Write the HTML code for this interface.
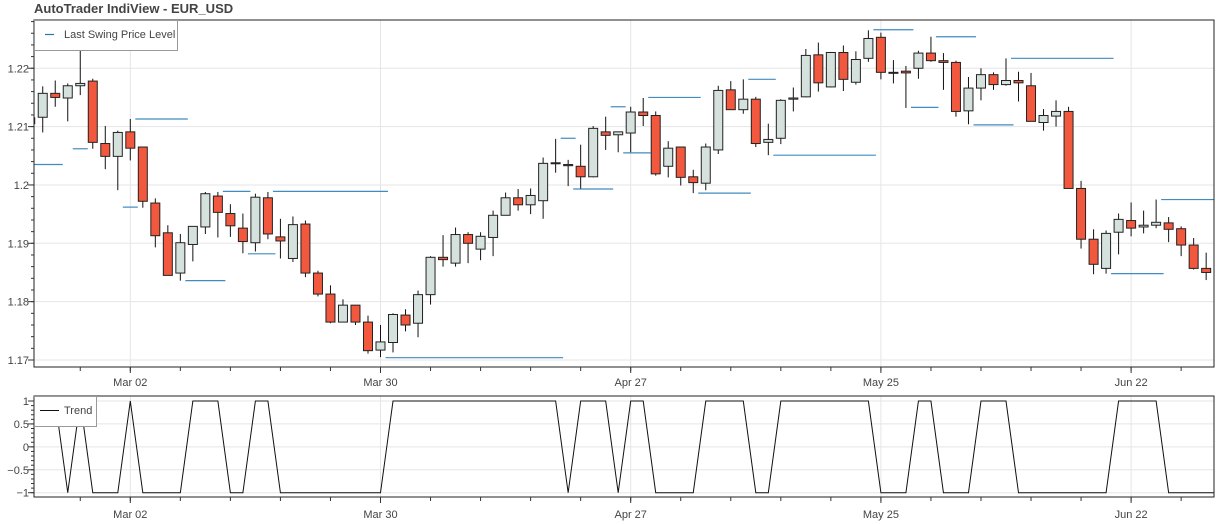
<!DOCTYPE html>
<html><head><meta charset="utf-8"><style>
html,body{margin:0;padding:0;background:#fff;}
svg{display:block;font-family:"Liberation Sans",Arial,sans-serif;}
</style></head><body>
<svg id="chart" width="1216" height="524" viewBox="0 0 1216 524">
<text x="34" y="13" font-size="13" font-weight="bold" fill="#444">AutoTrader IndiView - EUR_USD</text>
<g id="main"></g>
<g id="sub"></g>
</svg>
<script>
const idx = [];
for (let k = -1; k <= 93; k++) idx.push(k);
const opens  = [1.2105,1.2116,1.2157,1.2149,1.2170,1.2178,1.2071,1.2049,1.2091,1.2065,1.1969,1.1918,1.1849,1.1898,1.1928,1.1981,1.1951,1.1926,1.1901,1.1978,1.1911,1.1874,1.1933,1.1849,1.1813,1.1765,1.1794,1.1765,1.1717,1.1730,1.1777,1.1763,1.1812,1.1876,1.1866,1.1915,1.1890,1.1910,1.1948,1.1978,1.1966,1.1973,1.2037,1.2035,1.2032,1.2014,1.2091,1.2086,1.2089,1.2125,1.2119,1.2032,1.2065,1.2014,1.2003,1.2060,1.2163,1.2129,1.2147,1.2073,1.2080,1.2147,1.2151,1.2223,1.2168,1.2227,1.2176,1.2217,1.2253,1.2193,1.2195,1.2200,1.2226,1.2213,1.2210,1.2127,1.2166,1.2189,1.2172,1.2179,1.2170,1.2107,1.2118,1.2126,1.1994,1.1907,1.1857,1.1919,1.1939,1.1928,1.1931,1.1935,1.1925,1.1897,1.1857];
const highs  = [1.2125,1.2169,1.2179,1.2174,1.2245,1.2182,1.2101,1.2093,1.2113,1.2065,1.1977,1.1931,1.1916,1.1929,1.1988,1.1988,1.1967,1.1951,1.1985,1.1988,1.1942,1.1946,1.1939,1.1853,1.1828,1.1804,1.1794,1.1776,1.1760,1.1780,1.1787,1.1819,1.1878,1.1914,1.1927,1.1919,1.1919,1.1956,1.1987,1.1993,1.1994,1.2047,1.2079,1.2043,1.2069,1.2101,1.2117,1.2091,1.2134,1.2149,1.2126,1.2075,1.2065,1.2026,1.2071,1.2170,1.2178,1.2181,1.2151,1.2105,1.2147,1.2167,1.2233,1.2244,1.2228,1.2239,1.2229,1.2265,1.2261,1.2214,1.2204,1.2230,1.2254,1.2226,1.2213,1.2185,1.2200,1.2193,1.2217,1.2194,1.2192,1.2130,1.2145,1.2134,1.2007,1.1924,1.1922,1.1951,1.1970,1.1956,1.1975,1.1945,1.1929,1.1909,1.1884];
const lows   = [1.2090,1.2090,1.2134,1.2109,1.2154,1.2062,1.2027,1.1991,1.2042,1.1961,1.1893,1.1845,1.1836,1.1869,1.1916,1.1910,1.1911,1.1883,1.1886,1.1907,1.1874,1.1868,1.1842,1.1809,1.1763,1.1765,1.1760,1.1711,1.1705,1.1713,1.1749,1.1739,1.1795,1.1860,1.1860,1.1866,1.1871,1.1878,1.1948,1.1956,1.1950,1.1942,1.2021,1.1998,1.1993,1.2013,1.2060,1.2056,1.2056,1.2101,1.2016,1.2013,1.1999,1.1986,1.1991,1.2053,1.2129,1.2122,1.2065,1.2051,1.2070,1.2126,1.2150,1.2160,1.2167,1.2161,1.2172,1.2211,1.2181,1.2174,1.2132,1.2182,1.2211,1.2163,1.2117,1.2104,1.2145,1.2163,1.2170,1.2143,1.2109,1.2093,1.2100,1.1994,1.1891,1.1847,1.1848,1.1881,1.1912,1.1917,1.1926,1.1902,1.1878,1.1855,1.1837];
const closes = [1.2115,1.2157,1.2150,1.2170,1.2174,1.2073,1.2049,1.2090,1.2063,1.1972,1.1913,1.1845,1.1901,1.1929,1.1985,1.1953,1.1930,1.1903,1.1979,1.1916,1.1904,1.1932,1.1849,1.1813,1.1765,1.1794,1.1765,1.1716,1.1731,1.1778,1.1760,1.1812,1.1876,1.1872,1.1915,1.1900,1.1912,1.1948,1.1978,1.1966,1.1982,1.2037,1.2038,1.2033,1.2014,1.2097,1.2085,1.2091,1.2125,1.2119,1.2019,1.2063,1.2013,1.2004,1.2065,1.2162,1.2129,1.2147,1.2071,1.2078,1.2145,1.2149,1.2222,1.2175,1.2227,1.2181,1.2215,1.2251,1.2193,1.2192,1.2192,1.2226,1.2213,1.2210,1.2126,1.2166,1.2189,1.2172,1.2179,1.2175,1.2109,1.2119,1.2126,1.1994,1.1907,1.1864,1.1917,1.1941,1.1926,1.1931,1.1936,1.1924,1.1897,1.1857,1.1850];
const swingStart = [-1,3,8,7,15,19,17,12,28,42,46,43,47,49,53,57,59,67,70,72,75,78,86,90];
const swingEnd   = [1,3,11,7,16,27,18,14,41,42,46,45,48,52,56,58,66,69,71,74,77,85,89,93];
const swingLevel = [1.2035,1.2062,1.2113,1.1962,1.1989,1.1989,1.1882,1.1836,1.1704,1.2080,1.2134,1.1993,1.2055,1.2150,1.1986,1.2181,1.2051,1.2266,1.2133,1.2254,1.2103,1.2217,1.1848,1.1975];
const trend = [1,1,1,-1,1,-1,-1,-1,1,-1,-1,-1,-1,1,1,1,-1,-1,1,1,-1,-1,-1,-1,-1,-1,-1,-1,-1,1,1,1,1,1,1,1,1,1,1,1,1,1,1,-1,1,1,1,-1,1,1,-1,-1,-1,-1,1,1,1,1,-1,-1,1,1,1,1,1,1,1,1,-1,-1,-1,1,1,-1,-1,-1,1,1,1,-1,-1,-1,-1,-1,-1,-1,-1,1,1,1,1,-1,-1,-1,-1];
const yTicks = [1.17,1.18,1.19,1.2,1.21,1.22];
const yTickLabels = ["1.17","1.18","1.19","1.2","1.21","1.22"];
const tTicks = [-1,-0.5,0,0.5,1];
const tTickLabels = ["−1","−0.5","0","0.5","1"];
const xLabelIdx = [7,27,47,67,87];
const xLabels = ["Mar 02","Mar 30","Apr 27","May 25","Jun 22"];

const NS = "http://www.w3.org/2000/svg";
const L = 34, R = 1214, T1 = 20, B1 = 367, T2 = 396, B2 = 497;
const xs = i => 130.3 + 12.51 * (i - 7);
const ys = v => 360 - (v - 1.17) * 5835;
const yt = v => 446.85 - v * 45.85;
function el(tag, attrs, parent) {
  const e = document.createElementNS(NS, tag);
  for (const k in attrs) e.setAttribute(k, attrs[k]);
  parent.appendChild(e);
  return e;
}
const svg = document.getElementById('chart');
const defs = el('defs', {}, svg);
const c1 = el('clipPath', {id: 'c1'}, defs); el('rect', {x: L, y: T1, width: R - L, height: B1 - T1}, c1);
const c2 = el('clipPath', {id: 'c2'}, defs); el('rect', {x: L, y: T2, width: R - L, height: B2 - T2}, c2);
const main = document.getElementById('main');
const sub = document.getElementById('sub');





// grids
const g1 = el('g', {}, main);


yTicks.forEach(v => el('line', {x1: L, x2: R, y1: ys(v), y2: ys(v), stroke: '#e5e5e5', 'stroke-width': 1}, g1));
xLabelIdx.forEach(i => { el('line', {x1: xs(i), x2: xs(i), y1: T1, y2: B1, stroke: '#e5e5e5'}, g1); el('line', {x1: xs(i), x2: xs(i), y1: T2, y2: B2, stroke: '#e5e5e5'}, g1); });
tTicks.forEach(v => el('line', {x1: L, x2: R, y1: yt(v), y2: yt(v), stroke: '#e5e5e5'}, g1));

// candles
const cg = el('g', {'clip-path': 'url(#c1)'}, main);


idx.forEach((i, k) => {
  const x = xs(i), up = closes[k] >= opens[k];
  const w = el('line', {x1: x, x2: x, y1: ys(highs[k]), y2: ys(lows[k]), stroke: '#111', 'stroke-width': 1}, cg);
  
  
  const top = ys(Math.max(opens[k], closes[k])), bot = ys(Math.min(opens[k], closes[k]));
  const b = el('rect', {x: x - 4.5, y: top, width: 9, height: Math.max(1, bot - top), fill: up ? '#d5e1dd' : '#f2583e', stroke: '#222', 'stroke-width': 1}, cg);
  
  
});
// swing lines
swingLevel.forEach((v, k) => {
  const s = el('line', {x1: xs(swingStart[k]) - 7.5, x2: xs(swingEnd[k]) + 7.5, y1: ys(v), y2: ys(v), stroke: '#1f77b4', 'stroke-width': 1.2, opacity: 0.85, 'clip-path': 'url(#c1)'}, main);
  
  
});
// trend line
let pts = idx.map((i, k) => xs(i) + ',' + yt(trend[k])).join(' ');
pts += ' ' + R + ',' + yt(trend[trend.length - 1]);
const tl = el('polyline', {points: pts, fill: 'none', stroke: '#111', 'stroke-width': 1, 'clip-path': 'url(#c2)'}, sub);



// frames
[[T1, B1, main], [T2, B2, sub]].forEach(([t, b, p]) => {
  const f = el('rect', {x: L, y: t, width: R - L, height: b - t, fill: 'none', stroke: '#222', 'stroke-width': 1}, p);
  
  
});
// y axes ticks
for (let v = 1.168; v <= 1.2285; v += 0.002) {
  const y = ys(v); if (y < T1 || y > B1) continue;
  el('line', {x1: L - 3, x2: L, y1: y, y2: y, stroke: '#333'}, main);
}
yTicks.forEach((v, k) => {
  el('line', {x1: L - 6, x2: L, y1: ys(v), y2: ys(v), stroke: '#333'}, main);
  const t = el('text', {x: L - 5, y: ys(v) + 4, 'text-anchor': 'end', 'font-size': 11, fill: '#444'}, main);
  t.textContent = yTickLabels[k];
  
  
});
for (let v = -1; v <= 1.01; v += 0.1) el('line', {x1: L - 3, x2: L, y1: yt(v), y2: yt(v), stroke: '#333'}, sub);
tTicks.forEach((v, k) => {
  el('line', {x1: L - 6, x2: L, y1: yt(v), y2: yt(v), stroke: '#333'}, sub);
  const t = el('text', {x: L - 5, y: yt(v) + 4, 'text-anchor': 'end', 'font-size': 11, fill: '#444'}, sub);
  t.textContent = tTickLabels[k];
  
  
});
// x axes ticks
for (let i = 3; i <= 94; i += 4) {
  el('line', {x1: xs(i), x2: xs(i), y1: B1, y2: B1 + 4, stroke: '#333'}, main);
  el('line', {x1: xs(i), x2: xs(i), y1: B2, y2: B2 + 4, stroke: '#333'}, sub);
}
xLabelIdx.forEach((i, k) => {
  el('line', {x1: xs(i), x2: xs(i), y1: B1, y2: B1 + 6, stroke: '#333'}, main);
  el('line', {x1: xs(i), x2: xs(i), y1: B2, y2: B2 + 6, stroke: '#333'}, sub);
  const a = el('text', {x: xs(i), y: 386, 'text-anchor': 'middle', 'font-size': 11, fill: '#444'}, main);
  a.textContent = xLabels[k];
  
  
  const b = el('text', {x: xs(i), y: 518, 'text-anchor': 'middle', 'font-size': 11, fill: '#444'}, sub);
  b.textContent = xLabels[k];
  
  
});
// legends
const lg1 = el('g', {}, main);


el('rect', {x: 34.5, y: 20.5, width: 143, height: 30, fill: '#fff', stroke: '#999'}, lg1);
el('line', {x1: 45, x2: 54, y1: 34.5, y2: 34.5, stroke: '#1f77b4', 'stroke-width': 1.2}, lg1);
const lt1 = el('text', {x: 64, y: 38, 'font-size': 11, fill: '#444'}, lg1);
lt1.textContent = 'Last Swing Price Level';


const lg2 = el('g', {}, sub);


el('rect', {x: 34.5, y: 396.5, width: 62, height: 30, fill: '#fff', stroke: '#999'}, lg2);
el('line', {x1: 40, x2: 59, y1: 410.5, y2: 410.5, stroke: '#111'}, lg2);
const lt2 = el('text', {x: 64, y: 414, 'font-size': 11, fill: '#444'}, lg2);
lt2.textContent = 'Trend';


</script>
</body></html>
